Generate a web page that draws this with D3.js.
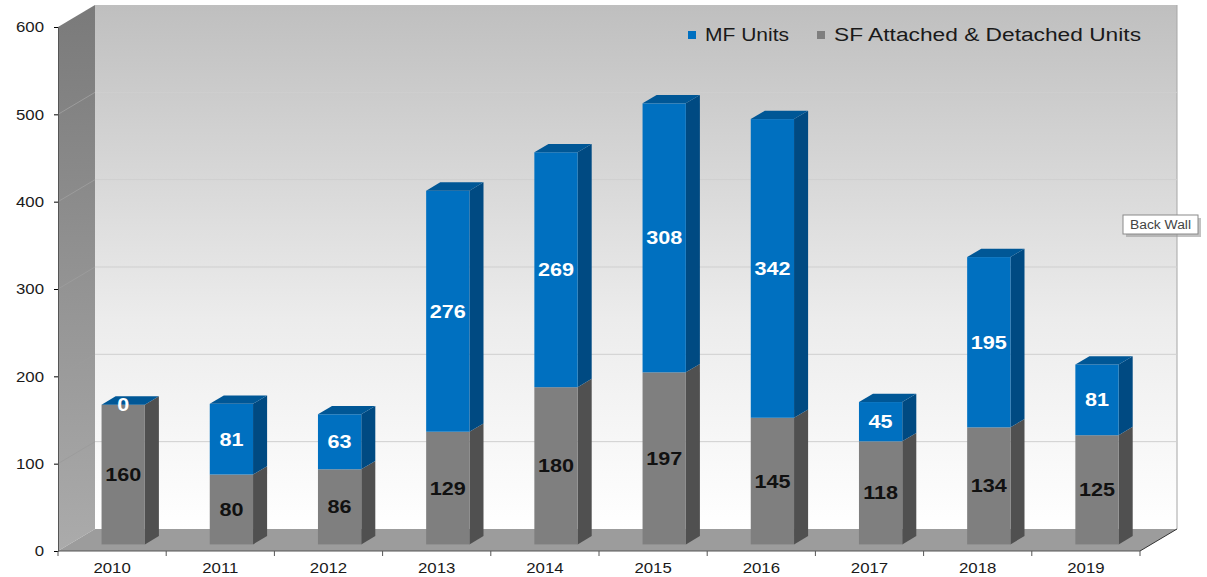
<!DOCTYPE html>
<html>
<head>
<meta charset="utf-8">
<script src="https://cdn.jsdelivr.net/npm/d3@7"></script>
<style>
  body { margin: 0; background: #fff; }
  svg { display: block; font-family: Arial, "Liberation Sans", sans-serif; }
</style>
</head>
<body>
<div class="chart-container"></div>
<script>
var w = 1207;
var h = 577;

// data
var years = ["2010", "2011", "2012", "2013", "2014", "2015", "2016", "2017", "2018", "2019"];
var sfUnits = [160, 80, 86, 129, 180, 197, 145, 118, 134, 125];
var mfUnits = [0, 81, 63, 276, 269, 308, 342, 45, 195, 81];
var yTicks = [0, 100, 200, 300, 400, 500, 600];
var seriesNames = ["MF Units", "SF Attached & Detached Units"];

// 3d depth of the plot box
var DX = 37, DY = -22;
var barFront = 0.3, barBack = 0.68;
var stretch = 1.2; // text in the picture is a bit wide

var x = d3.scaleBand()
    .domain(years)
    .range([58, 1140])
    .paddingInner(0.6)
    .paddingOuter(0.3);

var y = d3.scaleLinear()
    .domain([0, 600])
    .range([551, 27]);

var svg = d3.select(".chart-container")
    .append("svg")
    .attr("width", w)
    .attr("height", h);

var defs = svg.append("defs");
var wallGrad = defs.append("linearGradient")
    .attr("id", "wallGrad").attr("x1", 0).attr("y1", 0).attr("x2", 0).attr("y2", 1);
wallGrad.append("stop").attr("offset", "0%").attr("stop-color", "#bfbfbf");
wallGrad.append("stop").attr("offset", "60%").attr("stop-color", "#ececec");
wallGrad.append("stop").attr("offset", "100%").attr("stop-color", "#ffffff");

var sideGrad = defs.append("linearGradient")
    .attr("id", "sideGrad").attr("x1", 0).attr("y1", 0).attr("x2", 0).attr("y2", 1);
sideGrad.append("stop").attr("offset", "0%").attr("stop-color", "#7a7a7a");
sideGrad.append("stop").attr("offset", "100%").attr("stop-color", "#ababab");

var x0 = x.range()[0], x1 = x.range()[1];
var y0 = y(0), yTop = y(600);

function pts(a) {
    return a.map(function(p) { return p.join(","); }).join(" ");
}

// back wall
svg.append("polygon")
    .attr("points", pts([[x0 + DX, yTop + DY], [x1 + DX, yTop + DY], [x1 + DX, y0 + DY], [x0 + DX, y0 + DY]]))
    .attr("fill", "url(#wallGrad)");

svg.append("line")
    .attr("x1", x1 + DX).attr("x2", x1 + DX)
    .attr("y1", yTop + DY).attr("y2", y0 + DY)
    .attr("stroke", "#a6a6a6");

// left wall
svg.append("polygon")
    .attr("points", pts([[x0, yTop], [x0 + DX, yTop + DY], [x0 + DX, y0 + DY], [x0, y0]]))
    .attr("fill", "url(#sideGrad)");

// gridlines
svg.selectAll(".grid")
    .data(yTicks.slice(1, -1))
    .enter()
    .append("line")
    .attr("class", "grid")
    .attr("x1", x0 + DX).attr("x2", x1 + DX)
    .attr("y1", function(d) { return y(d) + DY; })
    .attr("y2", function(d) { return y(d) + DY; })
    .attr("stroke", "#cfcfcf");

svg.selectAll(".grid-side")
    .data(yTicks.slice(1, -1))
    .enter()
    .append("line")
    .attr("class", "grid-side")
    .attr("x1", x0).attr("x2", x0 + DX)
    .attr("y1", function(d) { return y(d); })
    .attr("y2", function(d) { return y(d) + DY; })
    .attr("stroke", "#9c9c9c");

// floor
svg.append("polygon")
    .attr("points", pts([[x0, y0], [x0 + DX, y0 + DY], [x1 + DX, y0 + DY], [x1, y0]]))
    .attr("fill", "#9c9c9c");
svg.append("line")
    .attr("x1", x1).attr("y1", y0).attr("x2", x1 + DX).attr("y2", y0 + DY)
    .attr("stroke", "#333");

// y axis
var yAxis = d3.axisLeft(y).tickValues(yTicks).tickSize(4).tickPadding(10);
var gy = svg.append("g")
    .attr("transform", "translate(" + x0 + ",0)")
    .call(yAxis);
gy.select(".domain").attr("stroke", "#555");
gy.selectAll("text")
    .attr("font-size", 14)
    .attr("fill", "#1a1a1a")
    .attr("transform", "scale(" + stretch + ",1)")
    .attr("x", -14 / stretch)
    .attr("dy", "0.35em");

// x axis: ticks at category borders
var gx = svg.append("g");
gx.append("line")
    .attr("x1", x0).attr("x2", x1).attr("y1", y0).attr("y2", y0)
    .attr("stroke", "#555");
var borders = years.map(function(d) { return x(d) - x.step() * x.paddingOuter(); });
borders.push(x1);
gx.selectAll(".xtick")
    .data(borders)
    .enter()
    .append("line")
    .attr("x1", function(d) { return d; })
    .attr("x2", function(d) { return d; })
    .attr("y1", y0).attr("y2", y0 + 5)
    .attr("stroke", "#555");
gx.selectAll(".xlabel")
    .data(years)
    .enter()
    .append("text")
    .attr("transform", function(d) {
        return "translate(" + (x(d) + x.bandwidth() / 2) + "," + 573 + ") scale(" + stretch + ",1)";
    })
    .attr("text-anchor", "middle")
    .attr("font-size", 14)
    .attr("fill", "#1a1a1a")
    .text(function(d) { return d; });

// stacked 3d bars
var colors = {
    sf: { front: "#7f7f7f", side: "#505050", top: "#6a6a6a", label: "#111" },
    mf: { front: "#0070c0", side: "#004a82", top: "#005796", label: "#fff" }
};

var bars = years.map(function(d, i) {
    return [
        { year: d, key: "sf", lo: 0, hi: sfUnits[i], v: sfUnits[i] },
        { year: d, key: "mf", lo: sfUnits[i], hi: sfUnits[i] + mfUnits[i], v: mfUnits[i] }
    ];
});

var fdx = DX * barFront, fdy = DY * barFront;
var sdx = DX * (barBack - barFront), sdy = DY * (barBack - barFront);

var gBars = svg.append("g");
bars.forEach(function(stack) {
    var g = gBars.append("g");
    stack.forEach(function(s, j) {
        var left = x(s.year) + fdx;
        var right = left + x.bandwidth();
        var yb = y(s.lo) + fdy;
        var yt = y(s.hi) + fdy;
        var c = colors[s.key];
        g.append("polygon")
            .attr("points", pts([[right, yt], [right + sdx, yt + sdy], [right + sdx, yb + sdy], [right, yb]]))
            .attr("fill", c.side);
        g.append("rect")
            .attr("x", left).attr("y", yt)
            .attr("width", x.bandwidth())
            .attr("height", Math.max(0, yb - yt))
            .attr("fill", c.front);
        if (j === stack.length - 1) {
            g.append("polygon")
                .attr("points", pts([[left, yt], [left + sdx, yt + sdy], [right + sdx, yt + sdy], [right, yt]]))
                .attr("fill", c.top);
        }
    });
    stack.forEach(function(s) {
        var cx = x(s.year) + fdx + x.bandwidth() / 2;
        var cy = (y(s.lo) + y(s.hi)) / 2 + fdy;
        g.append("text")
            .attr("transform", "translate(" + cx + "," + cy + ") scale(" + stretch + ",1)")
            .attr("text-anchor", "middle")
            .attr("dy", "0.36em")
            .attr("font-size", 18)
            .attr("font-weight", "bold")
            .attr("fill", colors[s.key].label)
            .text(s.v);
    });
});

// legend
var legend = svg.append("g");
var legendItems = [
    { name: seriesNames[0], color: colors.mf.front, x: 688, len: 84 },
    { name: seriesNames[1], color: colors.sf.front, x: 817, len: 307 }
];
legendItems.forEach(function(d) {
    legend.append("rect")
        .attr("x", d.x).attr("y", 31)
        .attr("width", 8).attr("height", 8)
        .attr("fill", d.color);
    legend.append("text")
        .attr("x", d.x + 17).attr("y", 41)
        .attr("font-size", 18)
        .attr("textLength", d.len)
        .attr("lengthAdjust", "spacingAndGlyphs")
        .attr("fill", "#1a1a1a")
        .text(d.name);
});

// "Back Wall" tooltip
var tip = svg.append("g").attr("transform", "translate(1123,215)");
tip.append("rect")
    .attr("x", 3).attr("y", 3).attr("width", 75).attr("height", 19)
    .attr("fill", "#9a9a9a").attr("opacity", 0.6);
tip.append("rect")
    .attr("width", 75).attr("height", 19)
    .attr("fill", "#fff").attr("stroke", "#8a8a8a");
tip.append("text")
    .attr("x", 37.5).attr("y", 14)
    .attr("text-anchor", "middle")
    .attr("font-size", 12)
    .attr("textLength", 61)
    .attr("lengthAdjust", "spacingAndGlyphs")
    .attr("fill", "#444")
    .text("Back Wall");
</script>
</body>
</html>
